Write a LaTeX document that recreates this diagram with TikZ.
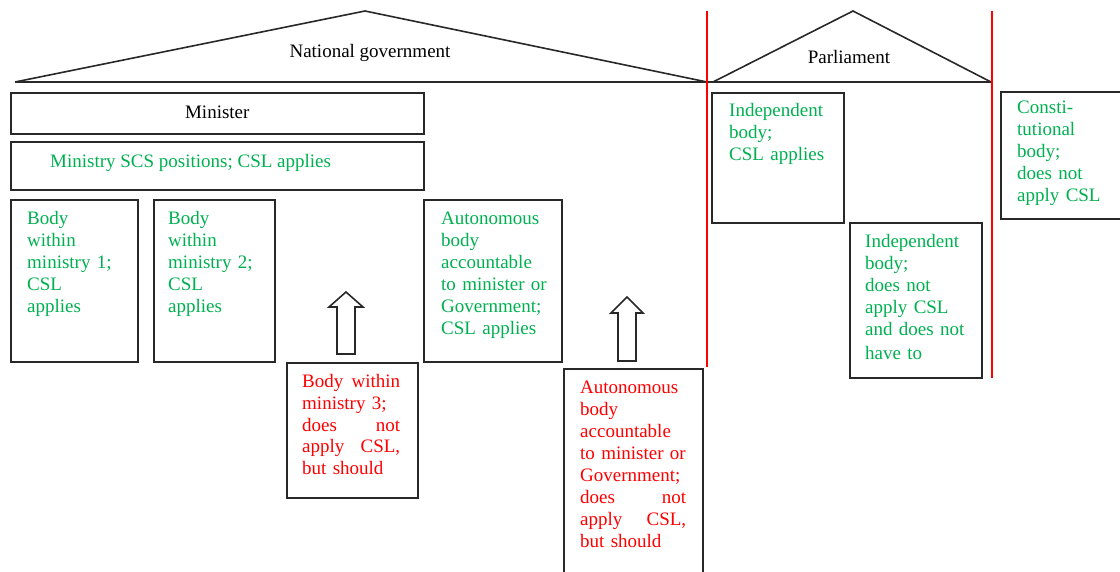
\documentclass[tikz,border=0pt]{standalone}
\usepackage{fontspec}
\setmainfont{Liberation Serif}
\usetikzlibrary{calc}
\definecolor{okgreen}{RGB}{0,176,80}
\definecolor{nogood}{RGB}{255,0,0}
\definecolor{edge}{RGB}{40,40,40}
\tikzset{
  box/.style={draw=edge, line width=1.6pt, rectangle, inner sep=0pt, anchor=north west},
  txt/.style={inner sep=0pt, anchor=base west, align=left, font=\fontsize{19}{22}\selectfont},
  gtxt/.style={txt, text=okgreen},
  rtxt/.style={txt, text=nogood},
  ktxt/.style={inner sep=0pt, anchor=base, font=\fontsize{19}{22}\selectfont, text=black},
  roof/.style={draw=edge, line width=1.6pt, line join=miter},
  divider/.style={draw=nogood, line width=1.3pt},
  blockarrow/.style={draw=edge, line width=1.6pt, fill=white, line join=miter}
}
\begin{document}
\begin{tikzpicture}[x=1pt,y=-1pt]
\useasboundingbox (0,0) rectangle (1120,572);

% roofs
\coordinate (gl) at (15,82);
\coordinate (ga) at (365,11);
\coordinate (gr) at (707,82);
\coordinate (pl) at (713,82);
\coordinate (pa) at (853,11);
\coordinate (pr) at (991,82);
\draw[roof] (gl) -- (ga) -- (gr);
\draw[roof] (pl) -- (pa) -- (pr);
\draw[roof] (gl) -- (pr);
\node[ktxt] (govt) at (370,58) {National government};
\node[ktxt] (parl) at (849,64) {Parliament};

% red dividers
\coordinate (d1t) at (707,11);
\coordinate (d1b) at (707,367);
\coordinate (d2t) at (992,11);
\coordinate (d2b) at (992,378);
\draw[divider] (d1t) -- (d1b);
\draw[divider] (d2t) -- (d2b);

% boxes
\node[box, minimum width=413, minimum height=41] (min) at (10,92) {};
\node[box, minimum width=413, minimum height=48] (scs) at (10,141) {};
\node[box, minimum width=127, minimum height=162] (b1) at (10,199) {};
\node[box, minimum width=121, minimum height=162] (b2) at (153,199) {};
\node[box, minimum width=131, minimum height=135] (b3) at (286,362) {};
\node[box, minimum width=138, minimum height=162] (ag) at (423,199) {};
\node[box, minimum width=139, minimum height=240] (ar) at (563,368) {};
\node[box, minimum width=132, minimum height=130] (ig) at (711,92) {};
\node[box, minimum width=132, minimum height=155] (ib) at (849,222) {};
\node[box, minimum width=140, minimum height=127] (cb) at (1000,91) {};

% texts
\node[ktxt] (tmin) at ($(min.north)+(0,27)$) {Minister};
\node[gtxt] (tscs) at ($(scs.north west)+(40,27)$) {Ministry SCS positions; CSL applies};
\node[gtxt, text width=105] (tb1) at ($(b1.north west)+(17,26)$) {Body\\within\\ministry 1;\\CSL\\applies};
\node[gtxt, text width=100] (tb2) at ($(b2.north west)+(15,26)$) {Body\\within\\ministry 2;\\CSL\\applies};
\node[rtxt, text width=98] (tb3) at ($(b3.north west)+(16,25)$) {Body\hfill within\\ministry 3;\\does\hfill not\\apply\hfill CSL,\\but should};
\node[gtxt, text width=115] (tag) at ($(ag.north west)+(18,26)$) {Autonomous\\body\\accountable\\\mbox{to minister or}\\Government;\\CSL applies};
\node[rtxt, text width=106] (tar) at ($(ar.north west)+(17,25)$) {Autonomous\\body\\accountable\\\mbox{to minister or}\\Government;\\does\hfill not\\apply\hfill CSL,\\but should};
\node[gtxt, text width=110] (tig) at ($(ig.north west)+(18,25)$) {Independent\\body;\\CSL applies};
\node[gtxt, text width=110] (tib) at ($(ib.north west)+(16,26)$) {Independent\\body;\\does not\\apply CSL\\and does not\\[2pt]have to};
\node[gtxt, text width=110] (tcb) at ($(cb.north west)+(17,23)$) {Consti-\\tutional\\body;\\does not\\apply CSL};

% hollow block arrows
\draw[blockarrow] (346,292) -- (363,307) -- (355,307) -- (355,354) -- (337,354) -- (337,307) -- (329,307) -- cycle;
\draw[blockarrow] (627,297) -- (643,313) -- (636,313) -- (636,361) -- (618,361) -- (618,313) -- (611,313) -- cycle;
\end{tikzpicture}
\end{document}
